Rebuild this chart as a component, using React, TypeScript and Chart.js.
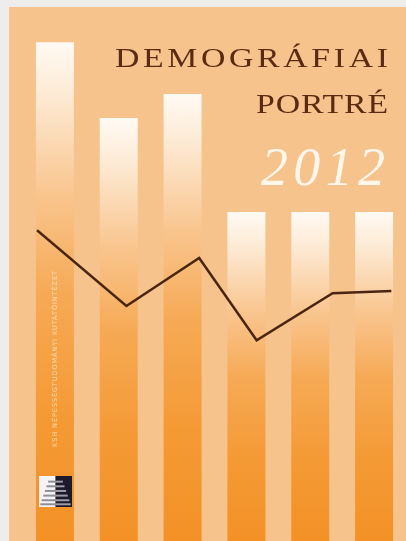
import React, { useEffect, useRef } from "react";
import { Chart, registerables } from "chart.js";

Chart.register(...registerables);

// Data (arbitrary units)
const categories = ["1", "2", "3", "4", "5", "6"];
const barValues = [93.4, 79.2, 83.7, 61.6, 61.6, 61.6];
const lineX = [0.22, 1.62, 2.76, 3.66, 4.85, 5.77];
const lineY = [58.2, 44.0, 53.0, 37.6, 46.4, 46.8];

const titleLine1 = "DEMOGRÁFIAI";
const titleLine2 = "PORTRÉ";
const yearText = "2012";
const spineText = "KSH NÉPESSÉGTUDOMÁNYI KUTATÓINTÉZET";

const CW = 397;
const CH = 534;

function fitText(ctx: CanvasRenderingContext2D, text: string, x: number, y: number, width: number, sx = 1) {
  ctx.save();
  ctx.translate(x, y);
  ctx.scale(sx, 1);
  (ctx as any).letterSpacing = "0px";
  const w0 = ctx.measureText(text).width;
  const n = Array.from(text).length;
  const sp = n > 1 ? (width / sx - w0) / (n - 1) : 0;
  (ctx as any).letterSpacing = sp + "px";
  ctx.fillText(text, 0, 0);
  (ctx as any).letterSpacing = "0px";
  ctx.restore();
}

const coverPlugin = {
  id: "cover",
  beforeDraw(chart: any) {
    const c = chart.ctx as CanvasRenderingContext2D;
    c.save();
    c.fillStyle = "#f6c38d";
    c.fillRect(0, 0, chart.width, chart.height);
    c.restore();
  },
  afterDatasetsDraw(chart: any) {
    const c = chart.ctx as CanvasRenderingContext2D;
    c.save();
    // Title
    c.fillStyle = "#5a2b12";
    c.textAlign = "left";
    c.textBaseline = "alphabetic";
    c.font = "27px 'Liberation Serif', serif";
    fitText(c, titleLine1, 106, 60, 273, 1.25);
    fitText(c, titleLine2, 247, 106, 132, 1.25);
    // Year
    c.fillStyle = "#fff6ec";
    c.font = "italic 54px 'Liberation Serif', serif";
    fitText(c, yearText, 252, 178, 124);
    // Spine text (bottom to top)
    c.save();
    c.translate(46, 440);
    c.rotate(-Math.PI / 2);
    c.fillStyle = "rgba(255,236,210,0.75)";
    c.font = "6.5px 'DejaVu Sans', sans-serif";
    c.textBaseline = "middle";
    fitText(c, spineText, 0, 0, 176);
    c.restore();
    // Logo
    const lx = 30, ly = 469, lw = 33, lh = 31;
    c.fillStyle = "#f4f4f6";
    c.fillRect(lx, ly, lw / 2, lh);
    c.fillStyle = "#1d1a2b";
    c.fillRect(lx + lw / 2, ly, lw / 2, lh);
    const stripes = [0.15, 0.3, 0.45, 0.6, 0.75, 0.88];
    stripes.forEach((s) => {
      const half = (lw / 2) * (0.35 + 0.65 * s);
      c.fillStyle = "#8e8f98";
      c.fillRect(lx + lw / 2 - half, ly + s * lh, half, 2);
      c.fillStyle = "#9a9ca6";
      c.fillRect(lx + lw / 2, ly + s * lh, half, 2);
    });
    c.restore();
  },
};

export default function App() {
  const ref = useRef<HTMLCanvasElement | null>(null);

  useEffect(() => {
    const canvas = ref.current;
    if (!canvas) return;
    const chart = new Chart(canvas, {
      type: "bar",
      data: {
        labels: categories,
        datasets: [
          {
            type: "line" as any,
            data: lineX.map((x, i) => ({ x, y: lineY[i] })),
            xAxisID: "x2",
            yAxisID: "y",
            borderColor: "#4a2511",
            borderWidth: 2.5,
            pointRadius: 0,
            tension: 0,
            fill: false,
            order: 0,
          } as any,
          {
            type: "bar",
            data: barValues,
            xAxisID: "x",
            yAxisID: "y",
            order: 1,
            grouped: false,
            borderWidth: 0,
            categoryPercentage: 1,
            barPercentage: 0.595,
            backgroundColor: (ctx: any) => {
              const ch = ctx.chart;
              const area = ch.chartArea;
              if (!area || ctx.type !== "data") return "#f39325";
              const top = ch.scales.y.getPixelForValue(ctx.raw);
              const g = ch.ctx.createLinearGradient(0, top, 0, area.bottom);
              g.addColorStop(0, "#fffaf4");
              g.addColorStop(0.1, "#fdebd6");
              g.addColorStop(0.3, "#f9c690");
              g.addColorStop(0.5, "#f6aa56");
              g.addColorStop(0.75, "#f49a35");
              g.addColorStop(1, "#f39126");
              return g;
            },
          } as any,
        ],
      },
      options: {
        responsive: false,
        animation: false,
        devicePixelRatio: 1,
        layout: { padding: { left: 14, right: 0, top: 0, bottom: 0 } },
        plugins: {
          legend: { display: false },
          tooltip: { enabled: false },
          title: { display: false },
        },
        scales: {
          x: { type: "category", display: false, offset: true },
          x2: { type: "linear", display: false, min: 0, max: 6, offset: false },
          y: { type: "linear", display: false, min: 0, max: 100 },
        },
      } as any,
      plugins: [coverPlugin],
    });
    return () => chart.destroy();
  }, []);

  return (
    <div
      style={{
        position: "fixed",
        left: 0,
        top: 0,
        width: 406,
        height: 541,
        background: "#efedeb",
        overflow: "hidden",
      }}
    >
      <canvas
        ref={ref}
        width={CW}
        height={CH}
        style={{ position: "absolute", left: 9, top: 7, width: CW, height: CH, display: "block" }}
      />
    </div>
  );
}
